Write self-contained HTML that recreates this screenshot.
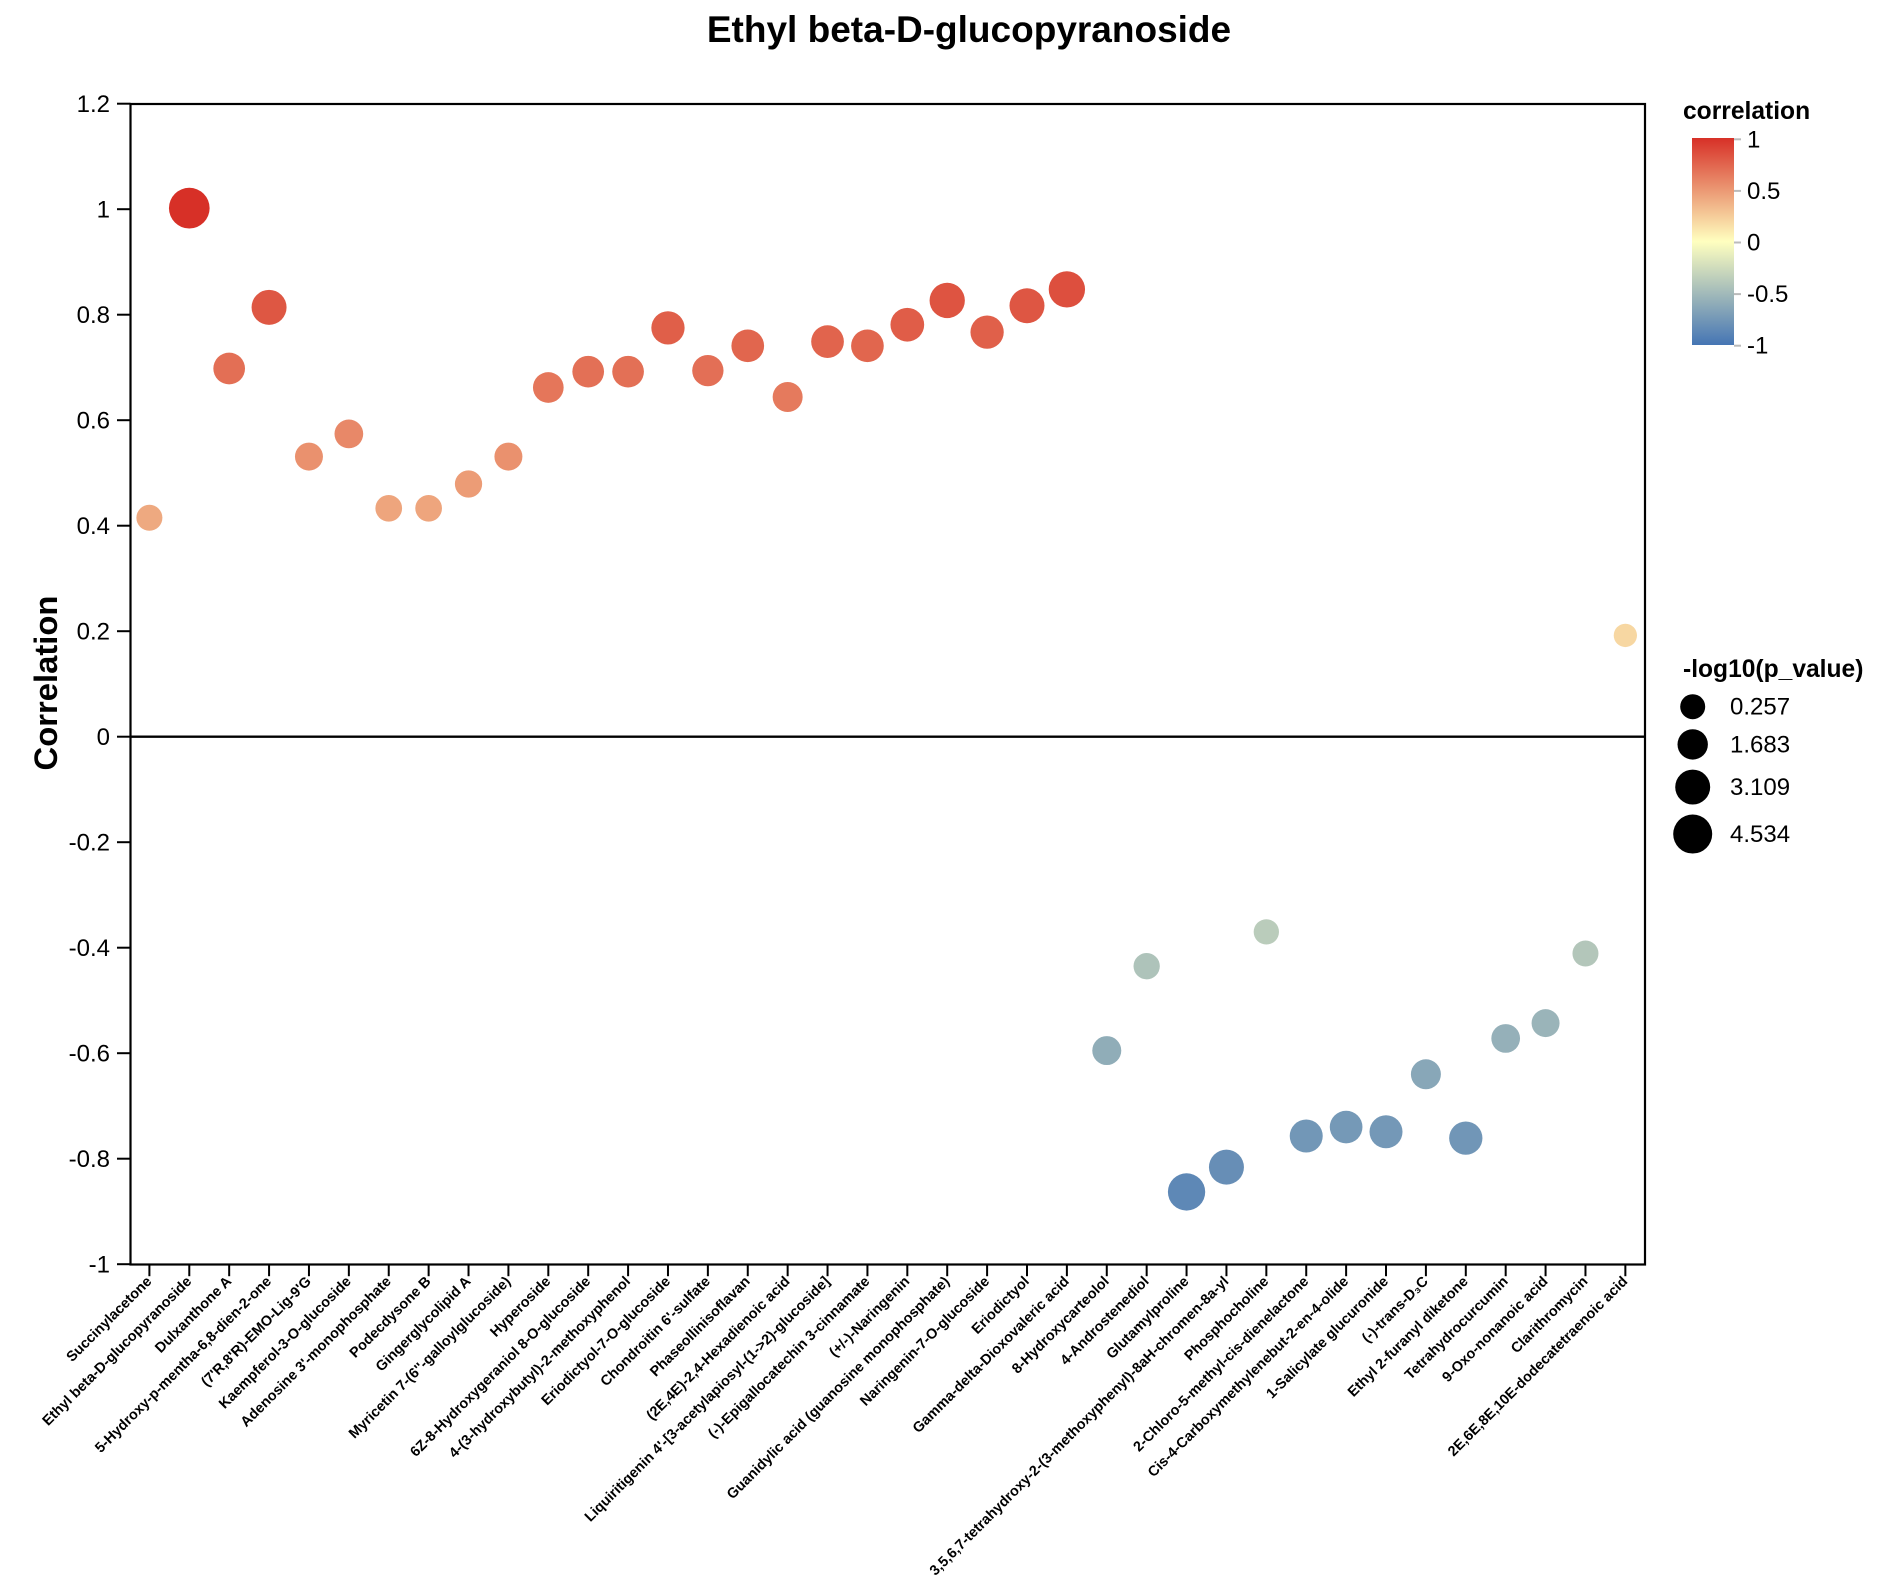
<!DOCTYPE html>
<html lang="en">
<head>
<meta charset="utf-8">
<title>Ethyl beta-D-glucopyranoside</title>
<style>
html,body{margin:0;padding:0;background:#fff;}
svg{display:block;font-family:"Liberation Sans",Arial,sans-serif;}
</style>
</head>
<body>
<svg id="chart" xmlns="http://www.w3.org/2000/svg" width="1899" height="1586" viewBox="0 0 1899 1586">
  <rect x="0" y="0" width="1899" height="1586" fill="#ffffff"/>
  <text x="969" y="42" text-anchor="middle" font-size="37" font-weight="bold" fill="#000">Ethyl beta-D-glucopyranoside</text>
  <text transform="translate(57,683) rotate(-90)" text-anchor="middle" font-size="32.8" font-weight="bold" fill="#000">Correlation</text>
  <defs>
    <linearGradient id="corr-gradient" x1="0" y1="0" x2="0" y2="1">
      <stop offset="0" stop-color="#d73027"/>
      <stop offset="0.5" stop-color="#ffffbf"/>
      <stop offset="1" stop-color="#4575b4"/>
    </linearGradient>
  </defs>
  <g id="axes"></g>
  <g id="points"></g>
  <rect x="130.5" y="104" width="1514.5" height="1160.5" fill="none" stroke="#000" stroke-width="2.2"/>
  <text x="1683" y="119" font-size="24.6" font-weight="bold" fill="#000">correlation</text>
  <rect x="1692" y="138" width="42" height="207" fill="url(#corr-gradient)"/>
  <g id="color-legend"></g>
  <text x="1683" y="677" font-size="24.6" font-weight="bold" fill="#000">-log10(p_value)</text>
  <g id="size-legend"></g>
</svg>
<script>
const categories = [
  "Succinylacetone","Ethyl beta-D-glucopyranoside","Dulxanthone A","5-Hydroxy-p-mentha-6,8-dien-2-one",
  "(7'R,8'R)-EMO-Lig-9'G","Kaempferol-3-O-glucoside","Adenosine 3'-monophosphate","Podecdysone B",
  "Gingerglycolipid A","Myricetin 7-(6''-galloylglucoside)","Hyperoside","6Z-8-Hydroxygeraniol 8-O-glucoside",
  "4-(3-hydroxybutyl)-2-methoxyphenol","Eriodictyol-7-O-glucoside","Chondroitin 6'-sulfate","Phaseollinisoflavan",
  "(2E,4E)-2,4-Hexadienoic acid","Liquiritigenin 4'-[3-acetylapiosyl-(1->2)-glucoside]","(-)-Epigallocatechin 3-cinnamate","(+/-)-Naringenin",
  "Guanidylic acid (guanosine monophosphate)","Naringenin-7-O-glucoside","Eriodictyol","Gamma-delta-Dioxovaleric acid",
  "8-Hydroxycarteolol","4-Androstenediol","Glutamylproline","3,5,6,7-tetrahydroxy-2-(3-methoxyphenyl)-8aH-chromen-8a-yl",
  "Phosphocholine","2-Chloro-5-methyl-cis-dienelactone","Cis-4-Carboxymethylenebut-2-en-4-olide","1-Salicylate glucuronide",
  "(-)-trans-D₃C","Ethyl 2-furanyl diketone","Tetrahydrocurcumin","9-Oxo-nonanoic acid",
  "Clarithromycin","2E,6E,8E,10E-dodecatetraenoic acid"
];
const correlation = [
  0.415,1.002,0.698,0.814,0.531,0.574,0.433,0.433,0.479,0.531,0.662,0.692,0.692,0.775,0.694,0.741,0.644,0.749,0.741,
  0.781,0.827,0.767,0.817,0.848,-0.595,-0.435,-0.863,-0.816,-0.370,-0.757,-0.740,-0.749,-0.640,-0.761,-0.572,-0.543,-0.411,0.192
];
const negLogP = [
  0.77,4.534,2.03,2.88,1.18,1.34,0.91,0.91,1.03,1.18,1.79,2.03,2.03,2.43,1.94,2.28,1.63,2.28,2.28,
  2.54,2.96,2.43,2.88,3.24,1.40,0.83,3.52,2.88,0.63,2.36,2.28,2.36,1.63,2.43,1.34,1.18,0.77,0.257
];
const yTicks = [1.2,1,0.8,0.6,0.4,0.2,0,-0.2,-0.4,-0.6,-0.8,-1];
const colorTicks = [1,0.5,0,-0.5,-1];
const sizeTicks = ["0.257","1.683","3.109","4.534"];

const NS = "http://www.w3.org/2000/svg";
const plotLeft = 130.5, plotRight = 1645, plotTop = 103.7, plotBottom = 1264.2;
const bandLeft = 129.45, bandRight = 1645.3;
const yMax = 1.2, yMin = -1;

function xScale(i){ return bandLeft + (i + 0.5) * (bandRight - bandLeft) / categories.length; }
function yScale(v){ return plotTop + (yMax - v) * (plotBottom - plotTop) / (yMax - yMin); }
function rScale(v){ return Math.sqrt(543 + (v - 0.257) * 260) / 2; }
function legendRadius(v){ return Math.sqrt(625 + (v - 0.257) * 209.5) / 2; }
function colorLegendY(v){ return 139.3 + (1 - v) * 103.2; }
function mix(a,b,t){ return Math.round(a + (b - a) * t); }
function colorScale(v){
  const red=[215,48,39], mid=[255,255,191], blue=[69,117,180];
  const c = Math.max(-1, Math.min(1, v));
  const end = c >= 0 ? red : blue;
  const t = Math.abs(c);
  return "rgb(" + mix(mid[0],end[0],t) + "," + mix(mid[1],end[1],t) + "," + mix(mid[2],end[2],t) + ")";
}
function make(tag, attrs, text){
  const el = document.createElementNS(NS, tag);
  for (const k in attrs) el.setAttribute(k, attrs[k]);
  if (text !== undefined) el.textContent = text;
  return el;
}

const axes = document.getElementById("axes");
const points = document.getElementById("points");
const colorLegend = document.getElementById("color-legend");
const sizeLegend = document.getElementById("size-legend");

yTicks.forEach(function(t){
  const y = yScale(t);
  const tick = make("line", {x1:117, x2:plotLeft, y1:y, y2:y, stroke:"#000", "stroke-width":2});
  
  
  axes.appendChild(tick);
  const label = make("text", {x:110, y:y + 8.5, "text-anchor":"end", "font-size":24, fill:"#000"}, String(t));
  
  
  axes.appendChild(label);
});

const zeroLine = make("line", {x1:plotLeft, x2:plotRight, y1:yScale(0), y2:yScale(0), stroke:"#000", "stroke-width":2.4});


axes.appendChild(zeroLine);

categories.forEach(function(name, i){
  const x = xScale(i);
  const tick = make("line", {x1:x, x2:x, y1:plotBottom, y2:plotBottom + 12, stroke:"#000", "stroke-width":2});
  
  
  axes.appendChild(tick);
  const label = make("text", {transform:"translate(" + (x + 3) + "," + (plotBottom + 18) + ") rotate(-45)", "text-anchor":"end", "font-size":14.4, "font-weight":"bold", fill:"#000"}, name);
  
  
  axes.appendChild(label);

  const pt = make("circle", {cx:x, cy:yScale(correlation[i]), r:rScale(negLogP[i]), fill:colorScale(correlation[i])});
  
  
  points.appendChild(pt);
});

colorTicks.forEach(function(t){
  const y = colorLegendY(t);
  const tick = make("line", {x1:1734, x2:1741, y1:y, y2:y, stroke:"#bbb", "stroke-width":2});
  
  
  colorLegend.appendChild(tick);
  const label = make("text", {x:1747, y:y + 8, "font-size":24, fill:"#000"}, String(t));
  
  
  colorLegend.appendChild(label);
});

let flowY = 706.7, prevR = null;
sizeTicks.forEach(function(t){
  const r = legendRadius(parseFloat(t));
  if (prevR !== null) flowY += prevR + r + 10;
  const symbol = make("circle", {cx:1692.7, cy:flowY, r:r, fill:"#000"});
  
  
  sizeLegend.appendChild(symbol);
  const label = make("text", {x:1730, y:flowY + 8, "font-size":24, fill:"#000"}, t);
  
  
  sizeLegend.appendChild(label);
  prevR = r;
});
</script>
</body>
</html>
